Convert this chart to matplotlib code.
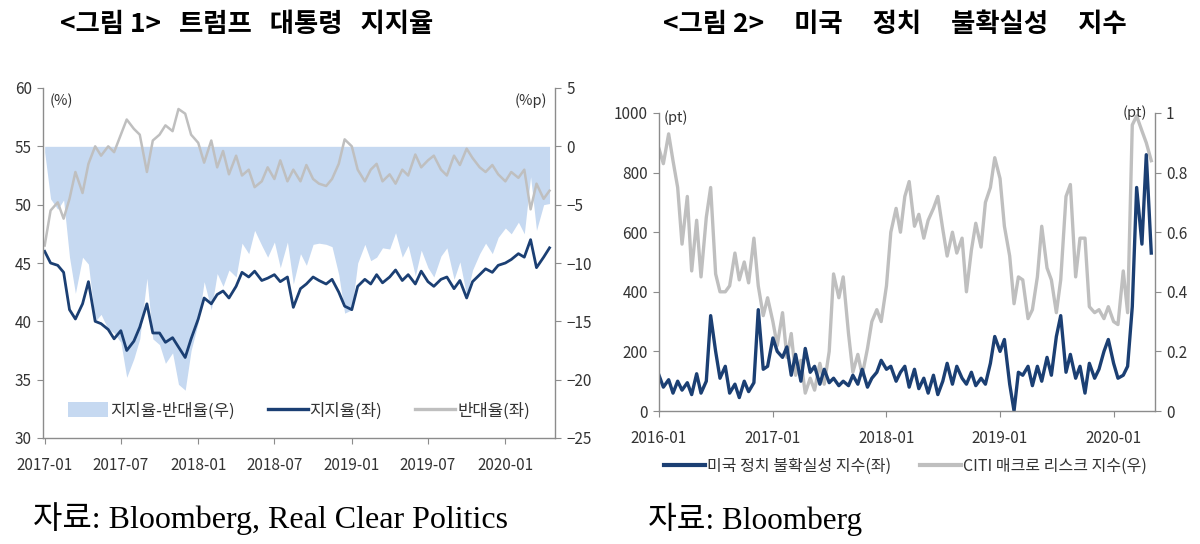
import matplotlib
matplotlib.use("Agg")
import matplotlib.pyplot as plt
import matplotlib.dates as mdates
from matplotlib.patches import Patch
from matplotlib.lines import Line2D
import pandas as pd

plt.rcParams['font.family'] = ['Noto Sans CJK KR', 'DejaVu Sans']

# ---- <그림 1> 트럼프 대통령 지지율 (semi-monthly, 2017-01 ~ 2020-04) ----
approval_dates = pd.date_range('2017-01-01', '2020-04-15', freq='SMS')
approve = [46.0, 45.0, 44.8, 44.2, 41.0, 40.2, 41.5, 43.4, 40.0, 39.8,
           39.3, 38.5, 39.2, 37.5, 38.3, 39.5, 41.5, 39.0, 39.0, 38.2,
           38.6, 37.8, 36.9, 38.5, 40.2, 42.0, 41.5, 42.3, 42.6, 42.0,
           43.0, 44.2, 43.8, 44.3, 43.5, 43.7, 44.0, 43.4, 43.8, 41.2,
           42.8, 43.2, 43.8, 43.5, 43.2, 43.6, 42.5, 41.3, 41.0, 43.0,
           43.6, 43.2, 44.0, 43.3, 43.8, 44.4, 43.5, 44.0, 43.2, 44.3,
           43.4, 43.0, 43.6, 43.8, 42.8, 43.5, 42.0, 43.4, 44.0, 44.5,
           44.2, 44.8, 45.0, 45.3, 45.8, 45.5, 47.0, 44.6, 45.5, 46.3]
disapprove = [46.5, 49.5, 50.2, 48.8, 50.5, 52.8, 51.0, 53.5, 55.0, 54.2,
              55.0, 54.5, 56.0, 57.3, 56.5, 56.0, 52.8, 55.5, 56.0, 56.8,
              56.3, 58.2, 57.8, 56.0, 55.3, 53.6, 55.5, 53.2, 54.6, 52.6,
              54.2, 52.5, 53.0, 51.5, 52.0, 53.2, 52.2, 53.8, 52.0, 53.0,
              52.0, 53.4, 52.2, 51.8, 51.6, 52.2, 53.5, 55.6, 55.0, 53.0,
              52.0, 53.0, 53.5, 52.0, 52.6, 51.8, 53.0, 52.5, 54.3, 53.2,
              53.8, 54.2, 53.0, 52.5, 54.2, 53.4, 54.8, 54.0, 53.2, 52.8,
              53.4, 52.6, 52.0, 52.8, 52.3, 53.0, 49.6, 51.8, 50.5, 51.2]

# ---- <그림 2> 미국 정치 불확실성 지수 (semi-monthly, 2016-01 ~ 2020-05) ----
risk_dates = pd.date_range('2016-01-01', '2020-05-01', freq='SMS')
policy_unc = [120, 80, 105, 60, 100, 70, 95, 55, 125, 60,
              100, 320, 200, 110, 150, 60, 90, 45, 100, 65,
              95, 340, 140, 150, 245, 200, 180, 215, 120, 190,
              100, 210, 130, 150, 90, 140, 95, 110, 85, 100,
              85, 120, 90, 140, 80, 110, 130, 170, 140, 150,
              100, 130, 150, 80, 140, 75, 110, 60, 120, 55,
              100, 160, 90, 150, 110, 90, 130, 85, 110, 90,
              160, 250, 200, 240, 90, 0, 130, 120, 150, 85,
              150, 100, 180, 120, 250, 320, 130, 190, 110, 150,
              60, 160, 110, 140, 200, 240, 160, 110, 120, 150,
              350, 750, 560, 860, 530]
citi_macro = [0.88, 0.83, 0.93, 0.84, 0.75, 0.56, 0.72, 0.47, 0.64, 0.45,
              0.65, 0.75, 0.46, 0.40, 0.40, 0.42, 0.53, 0.44, 0.50, 0.43,
              0.58, 0.42, 0.32, 0.38, 0.30, 0.22, 0.33, 0.18, 0.26, 0.12,
              0.17, 0.06, 0.11, 0.07, 0.16, 0.09, 0.20, 0.46, 0.38, 0.45,
              0.26, 0.13, 0.19, 0.12, 0.21, 0.30, 0.34, 0.30, 0.42, 0.60,
              0.68, 0.60, 0.72, 0.77, 0.62, 0.66, 0.58, 0.64, 0.68, 0.72,
              0.61, 0.52, 0.60, 0.53, 0.58, 0.40, 0.54, 0.63, 0.55, 0.70,
              0.75, 0.85, 0.78, 0.62, 0.52, 0.36, 0.45, 0.44, 0.31, 0.34,
              0.45, 0.62, 0.48, 0.44, 0.33, 0.44, 0.72, 0.76, 0.45, 0.58,
              0.58, 0.35, 0.33, 0.34, 0.31, 0.35, 0.30, 0.29, 0.47, 0.33,
              0.96, 0.99, 0.94, 0.90, 0.84]

NAVY = '#1B3F73'
GREY = '#BFBFBF'
FILL = '#C6D9F1'
SPINE = '#8C8C8C'
TXT = '#333333'


def style_axes(ax):
    ax.spines['top'].set_visible(False)
    for side in ['left', 'right', 'bottom']:
        ax.spines[side].set_color(SPINE)
        ax.spines[side].set_linewidth(1.0)
    ax.tick_params(axis='both', colors=SPINE, labelcolor=TXT, labelsize=11,
                   length=4, direction='out')
    ax.tick_params(axis='y', pad=4)
    ax.tick_params(axis='x', pad=10)


fig = plt.figure(figsize=(12, 5.44), dpi=100)

# ---------------- chart 1 ----------------
ax1 = fig.add_axes([43 / 1200, 1 - 438 / 544, 512 / 1200, 350 / 544])
ax1b = ax1.twinx()
spread = [a - d for a, d in zip(approve, disapprove)]
ax1b.fill_between(approval_dates, 0, spread, color=FILL, linewidth=0)
ax1.plot(approval_dates, disapprove, color=GREY, lw=1.8)
ax1.plot(approval_dates, approve, color=NAVY, lw=2.0)
ax1.set_zorder(ax1b.get_zorder() + 1)
ax1.patch.set_visible(False)

ax1.set_ylim(30, 60)
ax1.set_yticks(range(30, 61, 5))
ax1b.set_ylim(-25, 5)
ax1b.set_yticks(range(-25, 6, 5))
ax1.set_xlim(pd.Timestamp('2016-12-28'), pd.Timestamp('2020-04-28'))
ax1.xaxis.set_major_locator(mdates.MonthLocator(bymonth=[1, 7]))
ax1.xaxis.set_major_formatter(mdates.DateFormatter('%Y-%m'))
style_axes(ax1)
style_axes(ax1b)
ax1.spines['right'].set_visible(False)
ax1b.spines['left'].set_visible(False)
ax1b.spines['bottom'].set_visible(False)

ax1.text(0.013, 0.985, '(%)', transform=ax1.transAxes, fontsize=10.5,
         color=TXT, va='top', ha='left')
ax1.text(0.985, 0.985, '(%p)', transform=ax1.transAxes, fontsize=10.5,
         color=TXT, va='top', ha='right')

handles1 = [Patch(facecolor=FILL, edgecolor='none', label='지지율-반대율(우)'),
            Line2D([], [], color=NAVY, lw=2.4, label='지지율(좌)'),
            Line2D([], [], color=GREY, lw=2.4, label='반대율(좌)')]
ax1.legend(handles=handles1, loc='center', bbox_to_anchor=(0.5, 27 / 350),
           ncol=3, frameon=False, fontsize=12, handlelength=2.4,
           handleheight=1.0, handletextpad=0.1, columnspacing=2.0,
           labelcolor=TXT)

# ---------------- chart 2 ----------------
ax2 = fig.add_axes([659 / 1200, 1 - 411 / 544, 496 / 1200, 298 / 544])
ax2b = ax2.twinx()
ax2b.plot(risk_dates, citi_macro, color=GREY, lw=2.4)
ax2.plot(risk_dates, policy_unc, color=NAVY, lw=2.4)
ax2.set_zorder(ax2b.get_zorder() + 1)
ax2.patch.set_visible(False)

ax2.set_ylim(0, 1000)
ax2.set_yticks(range(0, 1001, 200))
ax2b.set_ylim(0, 1)
ax2b.set_yticks([0, 0.2, 0.4, 0.6, 0.8, 1])
ax2b.set_yticklabels(['0', '0.2', '0.4', '0.6', '0.8', '1'])
ax2.set_xlim(pd.Timestamp('2016-01-01'), pd.Timestamp('2020-05-13'))
ax2.xaxis.set_major_locator(mdates.YearLocator())
ax2.xaxis.set_major_formatter(mdates.DateFormatter('%Y-%m'))
style_axes(ax2)
style_axes(ax2b)
ax2.spines['right'].set_visible(False)
ax2b.spines['left'].set_visible(False)
ax2b.spines['bottom'].set_visible(False)

ax2.text(0.01, 1.01, '(pt)', transform=ax2.transAxes, fontsize=10.5,
         color=TXT, va='top', ha='left')
ax2.text(0.985, 1.025, '(pt)', transform=ax2.transAxes, fontsize=10.5,
         color=TXT, va='top', ha='right')

handles2 = [Line2D([], [], color=NAVY, lw=3, label='미국 정치 불확실성 지수(좌)'),
            Line2D([], [], color=GREY, lw=3, label='CITI 매크로 리스크 지수(우)')]
fig.legend(handles=handles2, loc='center', bbox_to_anchor=(905 / 1200, 1 - 466 / 544),
           ncol=2, frameon=False, fontsize=11.5, handlelength=2.6,
           handletextpad=0.1, columnspacing=1.8, labelcolor=TXT)

# ---------------- titles & sources ----------------
fig.text(247 / 1200, 1 - 25 / 544, '<그림 1>   트럼프   대통령   지지율',
         ha='center', va='center', fontsize=19, fontweight='bold', color='black')
fig.text(895 / 1200, 1 - 25 / 544, '<그림 2>     미국     정치     불확실성     지수',
         ha='center', va='center', fontsize=19, fontweight='bold', color='black')

src_font = ['Liberation Serif', 'Noto Sans CJK KR']
fig.text(33 / 1200, 1 - 519 / 544, '자료: Bloomberg, Real Clear Politics',
         ha='left', va='center', fontsize=23, family=src_font, color='black')
fig.text(648 / 1200, 1 - 519 / 544, '자료: Bloomberg',
         ha='left', va='center', fontsize=22.5, family=src_font, color='black')

fig.savefig('out.png', dpi=100, facecolor='white')
